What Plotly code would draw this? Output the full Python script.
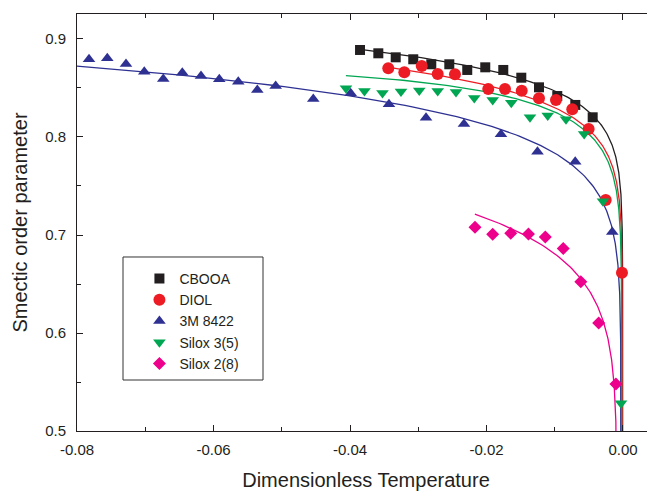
import numpy as np
import plotly.graph_objects as go

# ---------------- data ----------------
series_names = ["CBOOA", "DIOL", "3M 8422", "Silox 3(5)", "Silox 2(8)"]

cbooa_t = [-0.03853, -0.03585, -0.03330, -0.03073, -0.02809, -0.02545, -0.02282,
           -0.02018, -0.01754, -0.01490, -0.01231, -0.00963, -0.00699, -0.00444]
cbooa_s = [0.8888, 0.8854, 0.8813, 0.8793, 0.8742, 0.8742, 0.8684,
           0.8711, 0.8684, 0.8605, 0.8507, 0.8418, 0.8327, 0.8201]

diol_t = [-0.03439, -0.03204, -0.02949, -0.02715, -0.02462, -0.01974, -0.01729,
          -0.01484, -0.01231, -0.00982, -0.00743, -0.00503, -0.00253, -0.00015]
diol_s = [0.8701, 0.8660, 0.8724, 0.8643, 0.8640, 0.8490, 0.8490,
          0.8473, 0.8395, 0.8378, 0.8283, 0.8082, 0.7357, 0.6615]

m3_t = [-0.07824, -0.07556, -0.07282, -0.07014, -0.06736, -0.06457, -0.06183,
        -0.05915, -0.05637, -0.05358, -0.05089, -0.04538, -0.03990, -0.03429,
        -0.02886, -0.02330, -0.01788, -0.01253, -0.00700, -0.00157]
m3_s = [0.8793, 0.8803, 0.8745, 0.8666, 0.8592, 0.8656, 0.8622,
        0.8589, 0.8564, 0.8480, 0.8520, 0.8388, 0.8446, 0.8334,
        0.8197, 0.8133, 0.8028, 0.7850, 0.7748, 0.7031]

silox35_t = [-0.04059, -0.03788, -0.03524, -0.03253, -0.02985, -0.02715, -0.02447,
             -0.02179, -0.01909, -0.01637, -0.01363, -0.01103, -0.00835, -0.00569,
             -0.00293, -0.00029]
silox35_s = [0.8497, 0.8469, 0.8449, 0.8464, 0.8474, 0.8469, 0.8459,
             0.8398, 0.8378, 0.8350, 0.8201, 0.8219, 0.8182, 0.8031,
             0.7344, 0.5283]

silox28_t = [-0.02168, -0.01909, -0.01645, -0.01385, -0.01138, -0.00875,
             -0.00618, -0.00356, -0.00103]
silox28_s = [0.7079, 0.7007, 0.7017, 0.7010, 0.6980, 0.6862,
             0.6523, 0.6102, 0.5480]

# power-law fit parameters: S = A*(tc - t)^beta*(1 + B*(tc - t))
fit_A = [1.0008, 0.9936, 0.9925, 1.0074, 0.946]
fit_beta = [0.0362, 0.039, 0.051, 0.042, 0.070]
fit_B = [0.0, 0.0, 0.0, -0.5, 0.0]
fit_tc = [-0.00005, -0.0001, -0.0003, -0.0002, -0.0009]
fit_tstart = [-0.0385, -0.0345, -0.0800, -0.0406, -0.0217]

x_tickvals = [-0.08, -0.06, -0.04, -0.02, 0.0]
x_ticktext = ["-0.08", "-0.06", "-0.04", "-0.02", "0.00"]
y_tickvals = [0.5, 0.6, 0.7, 0.8, 0.9]
y_ticktext = ["0.5", "0.6", "0.7", "0.8", "0.9"]

x_title = "Dimensionless Temperature"
y_title = "Smectic order parameter"

# ---------------- styling ----------------
colors = ["#231F20", "#ED1C24", "#2E3192", "#00A651", "#EC008C"]
symbols = ["square", "circle", "triangle-up", "triangle-down", "diamond"]
msizes = [10, 12, 11, 11, 10]
FONT = "Liberation Sans, Arial, sans-serif"
AX = "#231F20"

xs = [cbooa_t, diol_t, m3_t, silox35_t, silox28_t]
ys = [cbooa_s, diol_s, m3_s, silox35_s, silox28_s]

fig = go.Figure()

# fitted curves
for i in range(5):
    d = np.logspace(np.log10(fit_tc[i] - fit_tstart[i]), -10, 600)
    t = fit_tc[i] - d
    s = fit_A[i] * d ** fit_beta[i] * (1 + fit_B[i] * d)
    fig.add_trace(go.Scatter(x=t, y=s, mode="lines", showlegend=False,
                             line=dict(color=colors[i], width=1.3), hoverinfo="skip"))

# data points
for i in range(5):
    fig.add_trace(go.Scatter(x=xs[i], y=ys[i], mode="markers", name=series_names[i],
                             marker=dict(symbol=symbols[i], size=msizes[i], color=colors[i],
                                         line=dict(width=0))))

axis_common = dict(showgrid=False, zeroline=False, showline=True, linecolor=AX, linewidth=1,
                   mirror="ticks", ticks="inside", ticklen=6, tickcolor=AX, tickwidth=1,
                   automargin=False,
                   tickfont=dict(family=FONT, size=15, color=AX))

# the page body adds an 8px offset, so the figure is 8px smaller and margins compensate
fig.update_layout(
    width=647, height=483,
    margin=dict(l=69, r=0, t=6, b=60),
    paper_bgcolor="white", plot_bgcolor="white",
    font=dict(family=FONT, color=AX),
    xaxis=dict(range=[-0.08, 0.00469], tickvals=x_tickvals, ticktext=x_ticktext,
               minor=dict(dtick=0.01, tick0=-0.08, ticks="inside", ticklen=4, tickcolor=AX),
               title=dict(text=x_title, font=dict(size=20, family=FONT, color=AX),
                          standoff=20),
               ticklabelstandoff=5,
               **axis_common),
    yaxis=dict(range=[0.5, 0.9255], tickvals=y_tickvals, ticktext=y_ticktext,
               minor=dict(dtick=0.05, tick0=0.5, ticks="inside", ticklen=4, tickcolor=AX),
               ticklabelstandoff=7,
               **axis_common),
    annotations=[dict(text=y_title, textangle=-90, xref="paper", yref="paper",
                      x=-0.1003, y=0.5, xanchor="center", yanchor="middle", showarrow=False,
                      font=dict(size=20, family=FONT, color=AX))],
    legend=dict(x=0.108, y=0.4029, xanchor="left", yanchor="top",
                bgcolor="rgba(0,0,0,0)", borderwidth=0,
                font=dict(family=FONT, size=14, color=AX)),
    shapes=[dict(type="rect", xref="paper", yref="paper",
                 x0=0.0796, x1=0.3218, y0=0.1223, y1=0.4173,
                 line=dict(color="#333333", width=1), fillcolor="white", layer="above")],
    showlegend=True,
)

fig.write_html("out.html")
